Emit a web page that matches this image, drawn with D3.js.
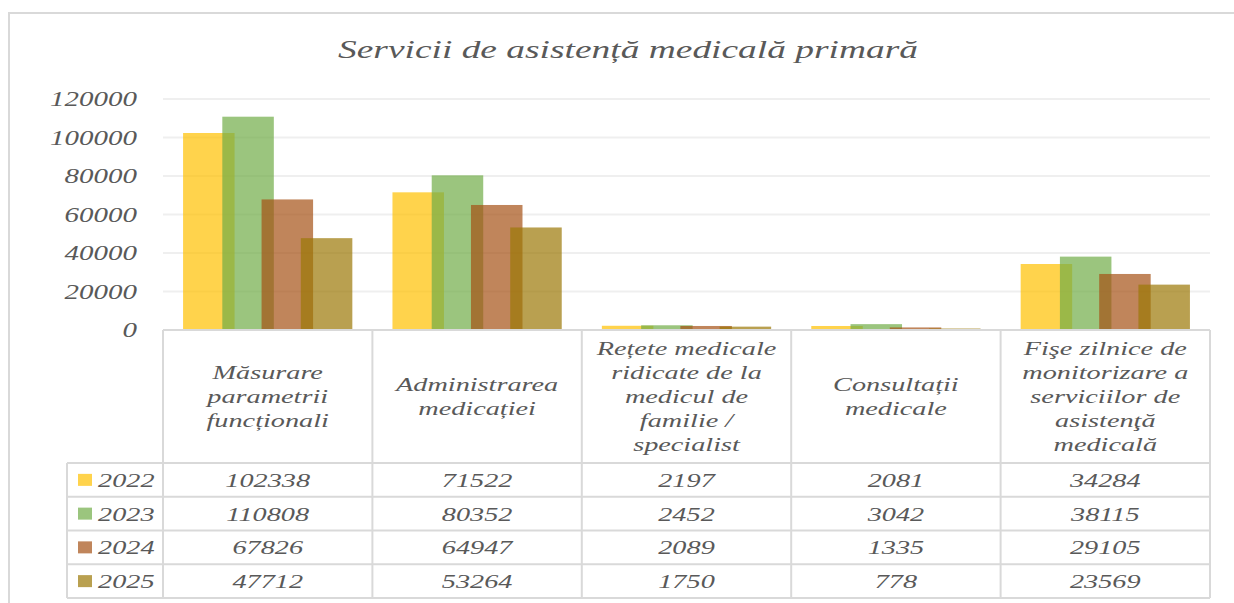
<!DOCTYPE html>
<html><head><meta charset="utf-8">
<script src="https://cdn.jsdelivr.net/npm/d3@7"></script>
<style>
html,body{margin:0;padding:0;background:#fff;}
svg{display:block;}
text{font-family:"Liberation Serif","Times New Roman",serif;font-style:italic;fill:#595959;}
</style></head>
<body>
<svg id="chart" width="1234" height="603"></svg>
<script>
const title = "Servicii de asistență medicală primară";
const categories = [
  "Măsurare\nparametrii\nfuncționali",
  "Administrarea\nmedicației",
  "Rețete medicale\nridicate de la\nmedicul de\nfamilie /\nspecialist",
  "Consultații\nmedicale",
  "Fişe zilnice de\nmonitorizare a\nserviciilor de\nasistenţă\nmedicală"
];
const years = ["2022", "2023", "2024", "2025"];
const values2022 = [102338, 71522, 2197, 2081, 34284];
const values2023 = [110808, 80352, 2452, 3042, 38115];
const values2024 = [67826, 64947, 2089, 1335, 29105];
const values2025 = [47712, 53264, 1750, 778, 23569];
const yTicks = [0, 20000, 40000, 60000, 80000, 100000, 120000];
const colors = ["#FFC000", "#70AD47", "#A55116", "#9B7705"];

const series = [values2022, values2023, values2024, values2025];
const svg = d3.select("#chart");
const SX = 1.45;
const grey = "#D9D9D9";

// outer chart frame
svg.append("path").attr("d", "M9,603 L9,13 L1234,13")
  .attr("fill", "none").attr("stroke", grey).attr("stroke-width", 2);

function stext(x, y, str, size, anchor, sx) {
  return svg.append("text")
    .attr("transform", `translate(${x},${y}) scale(${sx || SX},1)`)
    .attr("text-anchor", anchor || "middle")
    .attr("font-size", size)
    .text(str);
}

// title
svg.append("text").attr("x", 338).attr("y", 58)
  .attr("font-size", 25)
  .attr("textLength", 580).attr("lengthAdjust", "spacingAndGlyphs")
  .style("letter-spacing", "0px")
  .text(title);

const plotL = 163, plotR = 1210, plotT = 99, plotB = 330;
const x = d3.scaleBand().domain(d3.range(categories.length)).range([plotL, plotR]).padding(0);
const y = d3.scaleLinear().domain([0, 120000]).range([plotB, plotT]);

// gridlines
svg.append("g").selectAll("line").data(yTicks.filter(t => t > 0)).join("line")
  .attr("x1", plotL).attr("x2", plotR)
  .attr("y1", d => y(d)).attr("y2", d => y(d))
  .attr("stroke", "#EFEFEF").attr("stroke-width", 2);

// y tick labels
yTicks.forEach(t => stext(137, y(t) + 7, String(t), 20, "end"));

// bars
const bw = x.bandwidth() * 0.246;
const step = bw * 0.762;
const groupW = bw + step * (years.length - 1);
series.forEach((vals, si) => {
  svg.append("g").selectAll("rect").data(vals).join("rect")
    .attr("x", (d, i) => x(i) + (x.bandwidth() - groupW) / 2 + si * step)
    .attr("width", bw)
    .attr("y", d => y(d))
    .attr("height", d => plotB - y(d))
    .attr("fill", colors[si]).attr("fill-opacity", 0.7);
});

// data table
const headerB = 463;
const rowH = (598 - headerB) / years.length;
const legL = 67;
const tbl = svg.append("g").attr("fill", "none").attr("stroke", grey).attr("stroke-width", 2);
// top line (axis)
tbl.append("line").attr("x1", plotL).attr("x2", plotR).attr("y1", plotB).attr("y2", plotB);
// vertical lines for category columns
d3.range(categories.length + 1).forEach(i => {
  const xx = i < categories.length ? x(i) : plotR;
  tbl.append("line").attr("x1", xx).attr("x2", xx).attr("y1", plotB).attr("y2", 598);
});
// legend column left line
tbl.append("line").attr("x1", legL).attr("x2", legL).attr("y1", headerB).attr("y2", 598);
// horizontal row lines
d3.range(years.length + 1).forEach(r => {
  const yy = headerB + r * rowH;
  tbl.append("line").attr("x1", legL).attr("x2", plotR).attr("y1", yy).attr("y2", yy);
});

// header texts
categories.forEach((c, i) => {
  const lines = c.split("\n");
  const cx = x(i) + x.bandwidth() / 2;
  const cy = (plotB + headerB) / 2 + 6.5;
  lines.forEach((ln, li) => {
    stext(cx, cy + (li - (lines.length - 1) / 2) * 24, ln, 19.5);
  });
});

// rows
years.forEach((yr, r) => {
  const cyRow = headerB + r * rowH + rowH / 2;
  svg.append("rect").attr("x", 78).attr("y", cyRow - 6).attr("width", 14).attr("height", 12)
    .attr("fill", colors[r]).attr("fill-opacity", 0.7);
  stext(98, cyRow + 7, yr, 19.5, "start");
  series[r].forEach((v, i) => {
    stext(x(i) + x.bandwidth() / 2, cyRow + 7, String(v), 19.5);
  });
});
</script>
</body></html>
